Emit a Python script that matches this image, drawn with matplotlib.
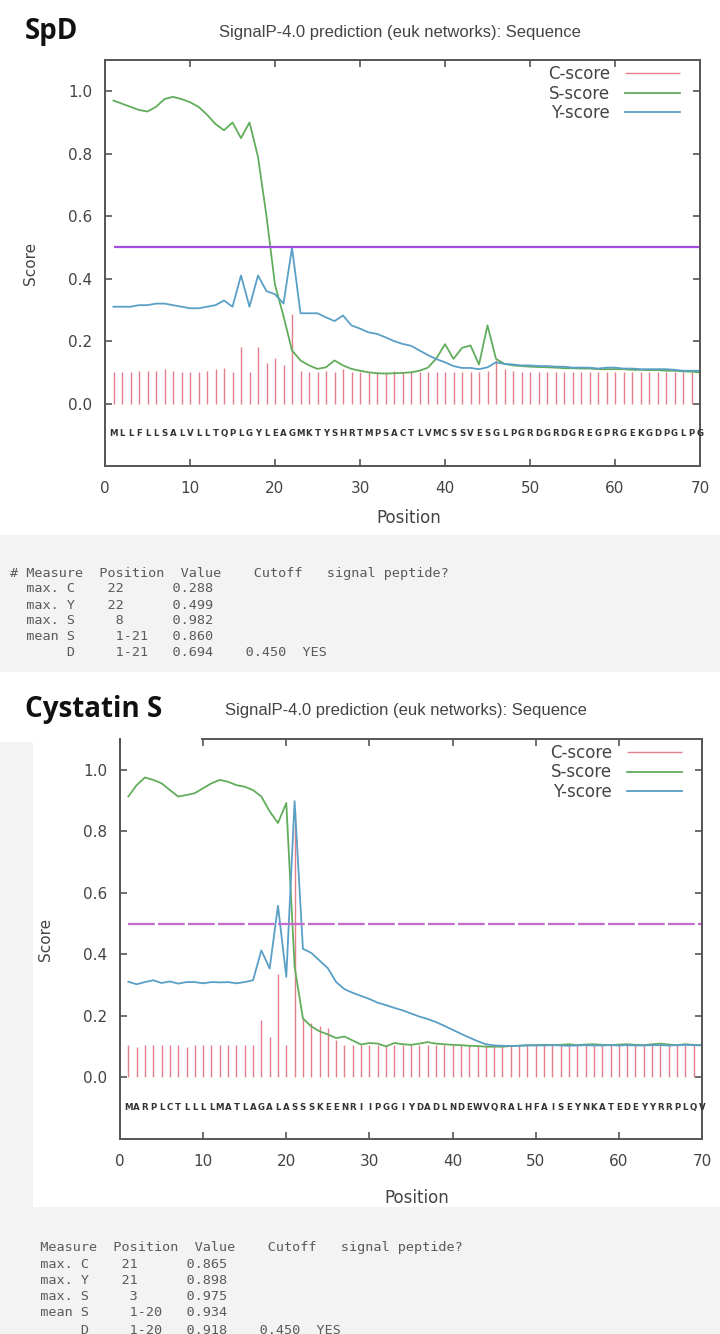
import matplotlib
matplotlib.use("Agg")
import matplotlib.pyplot as plt
from matplotlib.patches import Rectangle

W, H = 720, 1334

positions = list(range(1, 71))
CUTOFF = 0.5
SEQ_Y = -0.097

# ---- SpD ----
spd_seq = "MLLFLLSALVLLTQPLGYLEAGMKTYSHRTMPSACTLVMCSSVESGLPGRDGRDGREGPRGEKGDPGLPG"
spd_c = [0.10, 0.10, 0.10, 0.105, 0.105, 0.105, 0.11, 0.105, 0.10, 0.10,
         0.10, 0.105, 0.11, 0.115, 0.10, 0.18, 0.10, 0.18, 0.13, 0.145,
         0.125, 0.288, 0.105, 0.10, 0.10, 0.105, 0.10, 0.11, 0.10, 0.10,
         0.10, 0.10, 0.10, 0.105, 0.10, 0.10, 0.10, 0.10, 0.10, 0.10,
         0.10, 0.10, 0.10, 0.10, 0.105, 0.14, 0.11, 0.105, 0.10, 0.10,
         0.10, 0.10, 0.10, 0.10, 0.10, 0.10, 0.10, 0.10, 0.10, 0.10,
         0.10, 0.10, 0.10, 0.10, 0.10, 0.10, 0.10, 0.10, 0.10, 0.10]
spd_s = [0.97, 0.96, 0.95, 0.94, 0.935, 0.95, 0.975, 0.982, 0.975, 0.965,
         0.95, 0.925, 0.895, 0.875, 0.90, 0.85, 0.90, 0.79, 0.60, 0.38,
         0.28, 0.17, 0.138, 0.122, 0.111, 0.116, 0.138, 0.122, 0.111, 0.105,
         0.10, 0.097, 0.096, 0.097, 0.098, 0.10, 0.105, 0.115, 0.145, 0.19,
         0.143, 0.178, 0.186, 0.125, 0.25, 0.143, 0.127, 0.122, 0.12, 0.118,
         0.117, 0.116, 0.115, 0.113, 0.113, 0.112, 0.112, 0.11, 0.11, 0.11,
         0.11, 0.108, 0.108, 0.107, 0.107, 0.105, 0.105, 0.103, 0.102, 0.10]
spd_y = [0.31, 0.31, 0.31, 0.315, 0.315, 0.32, 0.32, 0.315, 0.31, 0.305,
         0.305, 0.31, 0.315, 0.33, 0.31, 0.41, 0.31, 0.41, 0.36, 0.35,
         0.32, 0.499, 0.289, 0.289, 0.289, 0.276, 0.264, 0.282, 0.25, 0.24,
         0.228, 0.223, 0.212, 0.20, 0.191, 0.185, 0.17, 0.155, 0.142, 0.132,
         0.12, 0.114, 0.114, 0.11, 0.116, 0.132, 0.127, 0.125, 0.122, 0.122,
         0.12, 0.12, 0.118, 0.118, 0.115, 0.115, 0.115, 0.112, 0.115, 0.115,
         0.112, 0.112, 0.11, 0.11, 0.11, 0.11, 0.108, 0.105, 0.105, 0.105]

# ---- Cystatin S ----
cys_seq = "MARPLCTLLLLMATLAGALASSSKEENRIIPGGIYDADLNDEWVQRALHFAISEYNKATEDEYYRRPLQV"
cys_c = [0.105, 0.10, 0.105, 0.105, 0.105, 0.105, 0.105, 0.10, 0.105, 0.105,
         0.105, 0.105, 0.105, 0.105, 0.105, 0.105, 0.187, 0.133, 0.337, 0.107,
         0.865, 0.192, 0.176, 0.166, 0.16, 0.123, 0.107, 0.107, 0.105, 0.105,
         0.105, 0.105, 0.105, 0.105, 0.105, 0.105, 0.105, 0.105, 0.105, 0.105,
         0.105, 0.105, 0.105, 0.105, 0.105, 0.105, 0.105, 0.105, 0.105, 0.105,
         0.105, 0.105, 0.105, 0.105, 0.105, 0.105, 0.105, 0.105, 0.105, 0.105,
         0.105, 0.105, 0.105, 0.105, 0.105, 0.105, 0.105, 0.105, 0.105, 0.105]
cys_s = [0.913, 0.95, 0.975, 0.967, 0.956, 0.934, 0.913, 0.918, 0.924, 0.94,
         0.956, 0.967, 0.961, 0.95, 0.945, 0.934, 0.913, 0.865, 0.827, 0.892,
         0.36, 0.192, 0.166, 0.15, 0.14, 0.128, 0.133, 0.12, 0.107, 0.112,
         0.11, 0.101, 0.112, 0.108, 0.106, 0.11, 0.115, 0.11, 0.108, 0.106,
         0.105, 0.103, 0.102, 0.10, 0.10, 0.10, 0.102, 0.103, 0.105, 0.105,
         0.106, 0.105, 0.106, 0.108, 0.105, 0.107, 0.108, 0.106, 0.105, 0.107,
         0.108, 0.106, 0.105, 0.108, 0.11, 0.107, 0.105, 0.108, 0.106, 0.105]
cys_y = [0.311, 0.303, 0.31, 0.316, 0.307, 0.312, 0.305, 0.31, 0.31, 0.306,
         0.31, 0.309, 0.31, 0.306, 0.31, 0.316, 0.413, 0.354, 0.558, 0.327,
         0.898, 0.418, 0.405, 0.38, 0.355, 0.31, 0.287, 0.275, 0.265, 0.255,
         0.243, 0.235, 0.226, 0.218, 0.208, 0.198, 0.19, 0.18, 0.168, 0.155,
         0.142, 0.13, 0.118, 0.108, 0.104, 0.103, 0.102, 0.103, 0.104, 0.104,
         0.104, 0.105, 0.104, 0.103, 0.104, 0.105, 0.104, 0.104, 0.105, 0.104,
         0.105, 0.104, 0.104, 0.105, 0.105, 0.104, 0.105, 0.106, 0.105, 0.104]

# summary tables (measure, position, value, cutoff, answer)
spd_rows = [("max. C", "22", "0.288", "", ""),
            ("max. Y", "22", "0.499", "", ""),
            ("max. S", " 8", "0.982", "", ""),
            ("mean S", " 1-21", "0.860", "", ""),
            ("     D", " 1-21", "0.694", "0.450", "YES")]
cys_rows = [("max. C", "21", "0.865", "", ""),
            ("max. Y", "21", "0.898", "", ""),
            ("max. S", " 3", "0.975", "", ""),
            ("mean S", " 1-20", "0.934", "", ""),
            ("     D", " 1-20", "0.918", "0.450", "YES")]

C_COL = "#e06a78"
S_COL = "#62ad5c"
Y_COL = "#5a9fc6"
FRAME = "#555555"
TXT = "#444444"

fig = plt.figure(figsize=(W / 100, H / 100), dpi=100)
fig.patch.set_facecolor("white")


def fx(x):
    return x / W


def fy(y):
    return 1 - y / H


def grey_box(x0, y0, x1, y1):
    fig.add_artist(Rectangle((fx(x0), fy(y1)), fx(x1 - x0), (y1 - y0) / H,
                             transform=fig.transFigure, facecolor="#f3f3f3",
                             edgecolor="none", zorder=-5))


grey_box(0, 535, 720, 672)
grey_box(0, 742, 33, 1207)
grey_box(0, 1207, 720, 1334)


def panel(box, seq, c, s, y, cut_style, xlab_y, ylab_x):
    l, t, r, b = box
    ax = fig.add_axes([fx(l), fy(b), fx(r - l), (b - t) / H])
    ax.vlines(positions, 0, c, color=C_COL, lw=1.0, alpha=0.85, label="C-score")
    ax.plot(positions, s, color=S_COL, lw=1.3, label="S-score")
    ax.plot(positions, y, color=Y_COL, lw=1.3, label="Y-score")
    ax.hlines(CUTOFF, positions[0], positions[-1], **cut_style)
    for p, aa in zip(positions, seq):
        ax.text(p, SEQ_Y, aa, ha="center", va="center", fontsize=6.2,
                fontweight="bold", color="#333333", family="DejaVu Sans")
    ax.set_xlim(0, 70)
    ax.set_ylim(-0.2, 1.1)
    ax.set_xticks(range(0, 71, 10))
    ax.set_yticks([0.0, 0.2, 0.4, 0.6, 0.8, 1.0])
    ax.set_yticklabels(["0.0", "0.2", "0.4", "0.6", "0.8", "1.0"])
    ax.tick_params(direction="in", length=5, width=1.2, color=FRAME,
                   top=True, right=True, labelsize=11, labelcolor=TXT)
    ax.tick_params(axis="y", pad=9)
    ax.tick_params(axis="x", pad=11)
    for sp in ax.spines.values():
        sp.set_color(FRAME)
        sp.set_linewidth(1.4)
    ax.set_xlabel("Position", fontsize=12, color=TXT)
    ax.set_ylabel("Score", fontsize=11, color=TXT)
    ax.xaxis.set_label_coords(0.51, xlab_y)
    ax.yaxis.set_label_coords(ylab_x, 0.5)
    leg = ax.legend(loc="upper right", bbox_to_anchor=(0.966, 0.988),
                    markerfirst=False, frameon=False, fontsize=12,
                    handlelength=3.3, handletextpad=0.9, labelspacing=0.1,
                    borderaxespad=0, borderpad=0)
    for txt in leg.get_texts():
        txt.set_color(TXT)
    return ax


ax1 = panel((105, 60, 700, 466), spd_seq, spd_c, spd_s, spd_y,
            dict(color="#a24fe0", lw=1.6), -0.105, -0.112)
ax2 = panel((120, 739, 702, 1139), cys_seq, cys_c, cys_s, cys_y,
            dict(color="#c46ccb", lw=1.6, linestyles=(0, (12, 1.5))), -0.125, -0.115)
ax2.spines["top"].set_bounds(9.9, 70)

# titles
fig.text(fx(25), fy(32), "SpD", fontsize=20, fontweight="bold",
         family="Open Sans", va="center", ha="left", color="#111111")
fig.text(fx(400), fy(32), "SignalP-4.0 prediction (euk networks): Sequence",
         fontsize=12, family="Liberation Sans", va="center", ha="center", color=TXT)
fig.text(fx(25), fy(710), "Cystatin S", fontsize=20, fontweight="bold",
         family="Open Sans", va="center", ha="left", color="#111111")
fig.text(fx(406), fy(710), "SignalP-4.0 prediction (euk networks): Sequence",
         fontsize=12, family="Liberation Sans", va="center", ha="center", color=TXT)


def table(x0, ys, header, rows):
    lines = [header]
    for m, pos, val, cut, ans in rows:
        line = f"  {m:<6}    {pos:<5}   {val}"
        if cut:
            line += f"    {cut}  {ans}"
        lines.append(line)
    for yy, line in zip(ys, lines):
        fig.text(fx(x0), fy(yy), line, family="DejaVu Sans Mono", fontsize=9.7,
                 color="#5a5a5a", va="center", ha="left")


table(10, [573, 589, 605, 621, 637, 653],
      "# Measure  Position  Value    Cutoff   signal peptide?", spd_rows)
table(24, [1247, 1264, 1280, 1297, 1313, 1330],
      "  Measure  Position  Value    Cutoff   signal peptide?", cys_rows)

fig.savefig("out.png", dpi=100)
